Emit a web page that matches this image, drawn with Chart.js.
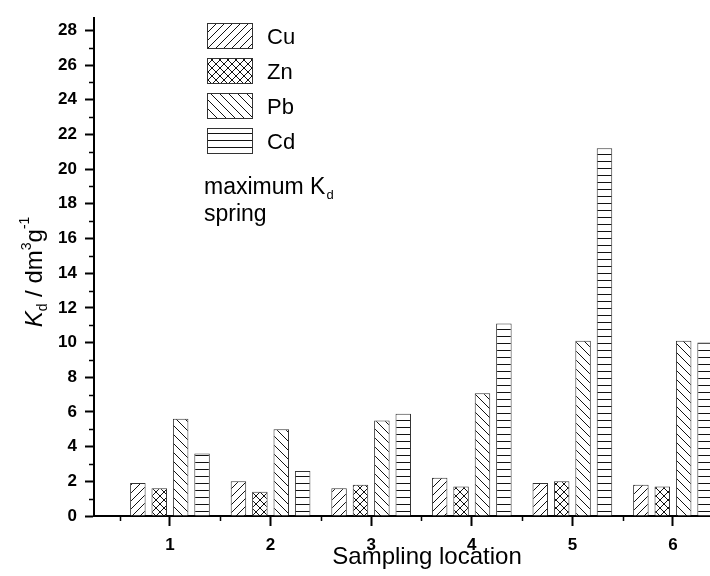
<!DOCTYPE html>
<html>
<head>
<meta charset="utf-8">
<script src="https://cdn.jsdelivr.net/npm/chart.js@4.4.0/dist/chart.umd.min.js"></script>
<style>
  html, body { margin: 0; padding: 0; overflow: hidden; background: #fff; }
  #wrap { width: 760px; height: 576px; }
  canvas { display: block; }
</style>
</head>
<body>
<div id="wrap"><canvas id="kd-chart" width="760" height="576"></canvas></div>
<script>
// Kd values per sampling location
const locations = [1, 2, 3, 4, 5, 6];
const metals = ['Cu', 'Zn', 'Pb', 'Cd'];
const cuValues = [1.9, 2.0, 1.6, 2.2, 1.9, 1.8];
const znValues = [1.6, 1.4, 1.8, 1.7, 2.0, 1.7];
const pbValues = [5.6, 5.0, 5.5, 7.07, 10.1, 10.1];
const cdValues = [3.6, 2.6, 5.9, 11.1, 21.2, 10.0];
const yTickValues = [0, 2, 4, 6, 8, 10, 12, 14, 16, 18, 20, 22, 24, 26, 28];
const yMinorValues = [1, 3, 5, 7, 9, 11, 13, 15, 17, 19, 21, 23, 25, 27];
const xMinorValues = [0.5, 1.5, 2.5, 3.5, 4.5, 5.5, 6.5];
const xTitle = 'Sampling location';
const noteText = ['maximum K', 'spring'];

const FONT = 'Arial, "Liberation Sans", Helvetica, sans-serif';

// hatch fills like the original print
function makePattern(kind) {
  const size = kind === 'Cd' ? 7 : (kind === 'Pb' ? 9 : 8);
  const c = document.createElement('canvas');
  c.width = size;
  c.height = size;
  const g = c.getContext('2d');
  g.fillStyle = '#fff';
  g.fillRect(0, 0, size, size);
  g.strokeStyle = '#111';
  g.lineWidth = 1;
  g.beginPath();
  if (kind === 'Cu' || kind === 'Zn') {
    g.moveTo(-1, size + 1); g.lineTo(size + 1, -1);
    g.moveTo(-1, 1); g.lineTo(1, -1);
    g.moveTo(size - 1, size + 1); g.lineTo(size + 1, size - 1);
  }
  if (kind === 'Pb' || kind === 'Zn') {
    g.moveTo(-1, -1); g.lineTo(size + 1, size + 1);
    g.moveTo(size - 1, -1); g.lineTo(size + 1, 1);
    g.moveTo(-1, size - 1); g.lineTo(1, size + 1);
  }
  if (kind === 'Cd') {
    g.moveTo(0, 0.5); g.lineTo(size, 0.5);
  }
  g.stroke();
  return g.createPattern(c, 'repeat');
}

const seriesValues = [cuValues, znValues, pbValues, cdValues];

const datasets = metals.map((m, k) => ({
  label: m,
  data: locations.map((x, i) => ({ x: x, y: seriesValues[k][i] })),
  backgroundColor: makePattern(m),
  borderColor: '#333',
  borderWidth: 1,
  categoryPercentage: 0.851,
  barPercentage: 0.724
}));

// minor ticks, legend, notes and the y title with sub/superscripts
const extrasPlugin = {
  id: 'extras',
  afterDraw(chart) {
    const ctx = chart.ctx;
    const xs = chart.scales.x;
    const ys = chart.scales.y;
    const area = chart.chartArea;
    ctx.save();
    ctx.strokeStyle = '#000';
    ctx.lineWidth = 1.5;
    ctx.beginPath();
    xMinorValues.forEach(v => {
      const px = Math.round(xs.getPixelForValue(v)) + 0.5;
      ctx.moveTo(px, area.bottom);
      ctx.lineTo(px, area.bottom + 5);
    });
    yMinorValues.forEach(v => {
      const py = Math.round(ys.getPixelForValue(v)) + 0.5;
      ctx.moveTo(area.left - 5, py);
      ctx.lineTo(area.left, py);
    });
    ctx.stroke();

    // legend
    chart.data.datasets.forEach((ds, i) => {
      const top = 23 + i * 35;
      ctx.fillStyle = ds.backgroundColor;
      ctx.fillRect(207, top, 45, 25);
      ctx.strokeStyle = '#333';
      ctx.lineWidth = 1;
      ctx.strokeRect(207.5, top + 0.5, 45, 25);
      ctx.fillStyle = '#000';
      ctx.font = '22px ' + FONT;
      ctx.textAlign = 'left';
      ctx.textBaseline = 'alphabetic';
      ctx.fillText(ds.label, 267, top + 21);
    });

    // note text
    ctx.fillStyle = '#000';
    ctx.font = '23px ' + FONT;
    ctx.fillText(noteText[0], 204, 194);
    const w0 = ctx.measureText(noteText[0]).width;
    ctx.font = '13px ' + FONT;
    ctx.fillText('d', 204 + w0 + 1, 199);
    ctx.font = '23px ' + FONT;
    ctx.fillText(noteText[1], 204, 221);

    // y axis title
    const parts = [
      { t: 'K', f: 'italic 24px ' + FONT, dy: 0 },
      { t: 'd', f: '14px ' + FONT, dy: 5 },
      { t: ' / dm', f: '24px ' + FONT, dy: 0 },
      { t: '3', f: '14px ' + FONT, dy: -11 },
      { t: 'g', f: '24px ' + FONT, dy: 0 },
      { t: '-1', f: '14px ' + FONT, dy: -13 }
    ];
    let total = 0;
    parts.forEach(p => { ctx.font = p.f; p.w = ctx.measureText(p.t).width; total += p.w; });
    ctx.translate(42, 272);
    ctx.rotate(-Math.PI / 2);
    let cx = -total / 2;
    parts.forEach(p => {
      ctx.font = p.f;
      ctx.fillText(p.t, cx, p.dy);
      cx += p.w;
    });
    ctx.restore();
  }
};

new Chart(document.getElementById('kd-chart'), {
  type: 'bar',
  data: { datasets: datasets },
  options: {
    responsive: false,
    animation: false,
    devicePixelRatio: 1,
    layout: { padding: { top: 14, left: 0, right: 0, bottom: 0 } },
    plugins: {
      legend: { display: false },
      tooltip: { enabled: false }
    },
    scales: {
      x: {
        type: 'linear',
        offset: false,
        min: 0.245,
        max: 6.865,
        afterBuildTicks: s => { s.ticks = locations.map(v => ({ value: v })); },
        afterFit: s => { s.height = 60; },
        ticks: {
          color: '#000',
          padding: 9,
          font: { family: FONT, size: 17, weight: 'bold' },
          callback: v => String(v)
        },
        grid: { offset: false, drawOnChartArea: false, tickLength: 10, tickWidth: 2, tickColor: '#000' },
        border: { color: '#000', width: 2 },
        title: {
          display: true,
          text: xTitle,
          color: '#000',
          font: { family: FONT, size: 24 },
          padding: { top: 0, bottom: 4 }
        }
      },
      y: {
        min: 0,
        max: 28.7,
        afterBuildTicks: s => { s.ticks = yTickValues.map(v => ({ value: v })); },
        afterFit: s => { s.width = 94; },
        ticks: {
          color: '#000',
          padding: 8,
          font: { family: FONT, size: 17, weight: 'bold' }
        },
        grid: { drawOnChartArea: false, tickLength: 9, tickWidth: 2, tickColor: '#000' },
        border: { color: '#000', width: 2 }
      }
    }
  },
  plugins: [extrasPlugin]
});
</script>
</body>
</html>
